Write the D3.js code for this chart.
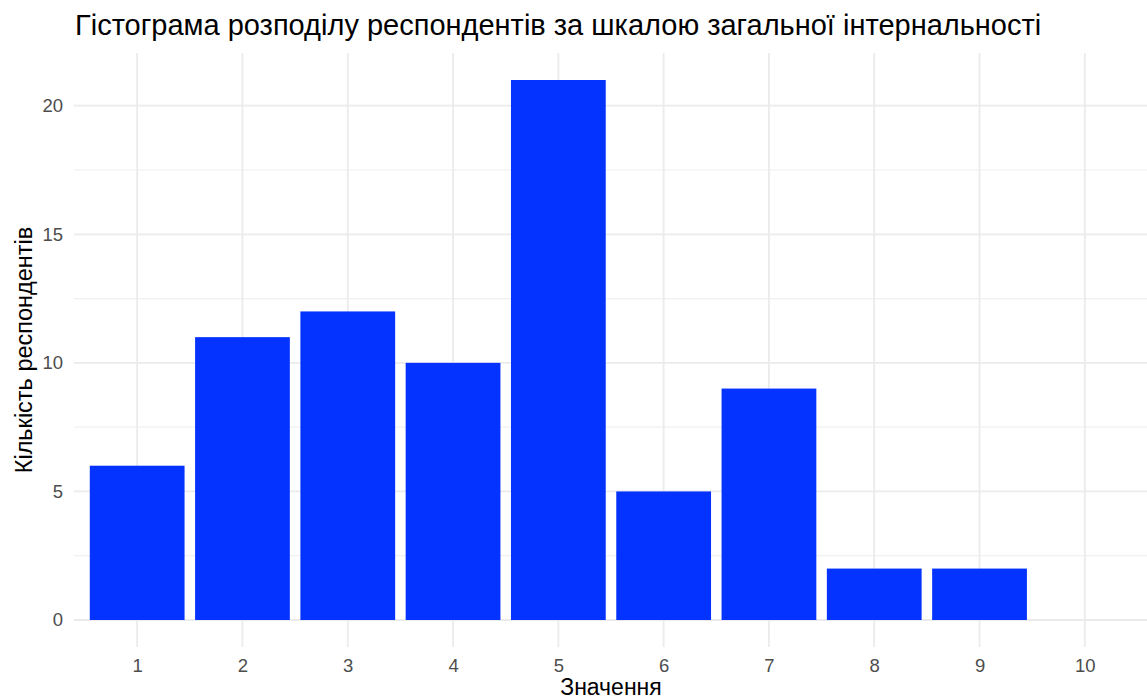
<!DOCTYPE html>
<html>
<head>
<meta charset="utf-8">
<script src="https://cdn.jsdelivr.net/npm/d3@7"></script>
<style>
body { margin: 0; background: #fff; }
text { font-family: "Liberation Sans", Arial, sans-serif; }
</style>
</head>
<body>
<script>
var categories = ["1", "2", "3", "4", "5", "6", "7", "8", "9", "10"];
var counts = [6, 11, 12, 10, 21, 5, 9, 2, 2, 0];
var yTicks = [0, 5, 10, 15, 20];
var yMinor = [2.5, 7.5, 12.5, 17.5];

var w = 1147;
var h = 700;

var svg = d3.select("body")
            .append("svg")
            .attr("width", w)
            .attr("height", h);

//scales, ggplot-like expansion
var x = d3.scalePoint()
          .domain(categories)
          .range([74, 1148])
          .padding(0.6);

var barW = x.step() * 0.9;

var y = d3.scaleLinear()
          .domain([-1.05, 22.05])
          .range([647, 53]);

//grid
var grid = svg.append("g");
grid.selectAll("line.minor")
    .data(yMinor)
    .enter()
    .append("line")
    .attr("x1", 74).attr("x2", 1148)
    .attr("y1", function(d) { return y(d); })
    .attr("y2", function(d) { return y(d); })
    .attr("stroke", "#f0f0f0")
    .attr("stroke-width", 1.2);

grid.selectAll("line.hmajor")
    .data(yTicks)
    .enter()
    .append("line")
    .attr("x1", 74).attr("x2", 1148)
    .attr("y1", function(d) { return y(d); })
    .attr("y2", function(d) { return y(d); })
    .attr("stroke", "#ebebeb")
    .attr("stroke-width", 1.8);

grid.selectAll("line.vmajor")
    .data(categories)
    .enter()
    .append("line")
    .attr("x1", function(d) { return x(d); })
    .attr("x2", function(d) { return x(d); })
    .attr("y1", 53).attr("y2", 647)
    .attr("stroke", "#ebebeb")
    .attr("stroke-width", 1.8);

//bars
svg.selectAll("rect.bar")
    .data(counts)
    .enter()
    .append("rect")
    .attr("class", "bar")
    .attr("x", function(d, i) { return x(categories[i]) - barW / 2; })
    .attr("width", barW)
    .attr("y", function(d) { return y(d); })
    .attr("height", function(d) { return y(0) - y(d); })
    .attr("fill", "#0433ff");

//axes (text only, minimal theme)
var yAxis = d3.axisLeft(y).tickValues(yTicks).tickSize(0).tickPadding(11);
var ya = svg.append("g").attr("transform", "translate(74,0)").call(yAxis);
ya.select(".domain").remove();
ya.selectAll("text").attr("fill", "#4d4d4d").style("font-size", "18.5px");

var xAxis = d3.axisBottom(x).tickSize(0).tickPadding(12);
var xa = svg.append("g").attr("transform", "translate(0,647)").call(xAxis);
xa.select(".domain").remove();
xa.selectAll("text").attr("fill", "#4d4d4d").style("font-size", "18.5px");

//titles
svg.append("text")
    .attr("x", 75)
    .attr("y", 35)
    .attr("fill", "#000")
    .style("font-size", "29px")
    .text("Гістограма розподілу респондентів за шкалою загальної інтернальності");

svg.append("text")
    .attr("x", 611)
    .attr("y", 695)
    .attr("text-anchor", "middle")
    .style("font-size", "23px")
    .text("Значення");

svg.append("text")
    .attr("transform", "translate(32,350) rotate(-90)")
    .attr("text-anchor", "middle")
    .style("font-size", "23.5px")
    .text("Кількість респондентів");
</script>
</body>
</html>
